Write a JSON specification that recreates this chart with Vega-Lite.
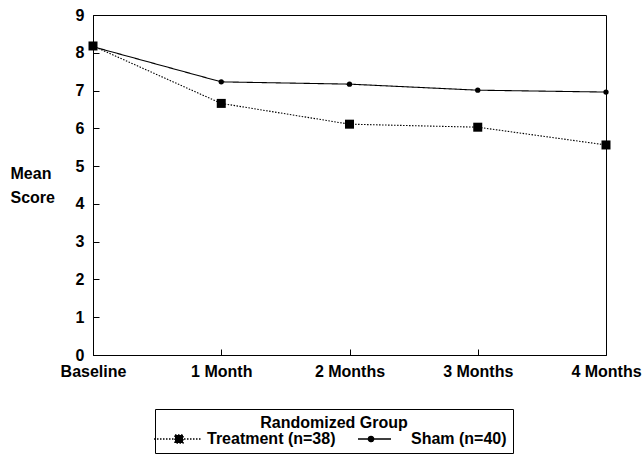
{
  "$schema": "https://vega.github.io/schema/vega-lite/v6.json",
  "autosize": {"type": "none"},
  "padding": {"left": 93, "top": 15, "right": 38, "bottom": 102},
  "width": 513,
  "height": 340,
  "background": "white",
  "data": {
    "values": [
      {"time": "Baseline", "group": "Treatment (n=38)", "score": 8.18},
      {"time": "1 Month", "group": "Treatment (n=38)", "score": 6.66},
      {"time": "2 Months", "group": "Treatment (n=38)", "score": 6.11},
      {"time": "3 Months", "group": "Treatment (n=38)", "score": 6.03},
      {"time": "4 Months", "group": "Treatment (n=38)", "score": 5.56},
      {"time": "Baseline", "group": "Sham (n=40)", "score": 8.16},
      {"time": "1 Month", "group": "Sham (n=40)", "score": 7.23},
      {"time": "2 Months", "group": "Sham (n=40)", "score": 7.17},
      {"time": "3 Months", "group": "Sham (n=40)", "score": 7.01},
      {"time": "4 Months", "group": "Sham (n=40)", "score": 6.96}
    ]
  },
  "encoding": {
    "x": {
      "field": "time", "type": "ordinal",
      "sort": ["Baseline", "1 Month", "2 Months", "3 Months", "4 Months"],
      "scale": {"type": "point", "padding": 0},
      "axis": {"title": null, "labelAngle": 0, "tickSize": -6, "labelPadding": 14, "domain": true}
    },
    "y": {
      "field": "score", "type": "quantitative",
      "scale": {"domain": [0, 9], "nice": false, "zero": true},
      "axis": {
        "values": [0, 1, 2, 3, 4, 5, 6, 7, 8, 9],
        "grid": false,
        "tickSize": -6,
        "labelPadding": 15,
        "title": ["Mean", "Score"],
        "titleAngle": 0,
        "titleAlign": "left",
        "titleBaseline": "alphabetic",
        "titleX": -83,
        "titleY": 163,
        "titleLineHeight": 24
      }
    }
  },
  "layer": [
    {
      "mark": {"type": "line", "color": "black", "strokeWidth": 1.1},
      "encoding": {
        "detail": {"field": "group", "type": "nominal"},
        "strokeDash": {
          "condition": {"test": "datum.group === 'Treatment (n=38)'", "value": [1.5, 1.5]},
          "value": [1, 0]
        }
      }
    },
    {
      "mark": {"type": "point", "filled": true, "color": "black", "opacity": 1, "strokeWidth": 0},
      "encoding": {
        "shape": {
          "condition": {"test": "datum.group === 'Treatment (n=38)'", "value": "square"},
          "value": "circle"
        },
        "size": {
          "condition": {"test": "datum.group === 'Treatment (n=38)'", "value": 81},
          "value": 28
        }
      }
    },
    {
      "transform": [{"filter": "false"}],
      "mark": {"type": "point", "filled": true, "fill": "black", "stroke": "black", "strokeWidth": 1, "opacity": 1, "size": 400},
      "encoding": {
        "shape": {
          "field": "group", "type": "nominal",
          "scale": {
            "domain": ["Treatment (n=38)", "Sham (n=40)"],
            "range": ["M-1.8,0H3M0.3,-0.4H1.1V0.4H0.3Z", "M-1.8,0H1.5M-0.24,0A0.26,0.26 0 1,1 -0.76,0A0.26,0.26 0 1,1 -0.24,0Z"]
          },
          "legend": {
            "title": "Randomized Group",
            "orient": "none",
            "legendX": 62,
            "legendY": 394,
            "direction": "horizontal",
            "titleAnchor": "middle",
            "titleAlign": "center",
            "titlePadding": -3,
            "padding": 6,
            "columnPadding": 19,
            "labelOffset": 24,
            "symbolSize": 400,
            "strokeColor": "black"
          }
        },
        "strokeDash": {
          "field": "group", "type": "nominal",
          "scale": {"domain": ["Treatment (n=38)", "Sham (n=40)"], "range": [[1.5, 1.5], [1, 0]]},
          "legend": {
            "title": "Randomized Group",
            "orient": "none",
            "legendX": 62,
            "legendY": 394,
            "direction": "horizontal",
            "titleAnchor": "middle",
            "titleAlign": "center",
            "titlePadding": -3,
            "padding": 6,
            "columnPadding": 19,
            "labelOffset": 24,
            "symbolSize": 400,
            "strokeColor": "black"
          }
        }
      }
    }
  ],
  "config": {
    "view": {"stroke": "black", "strokeWidth": 1},
    "font": "Liberation Sans",
    "axis": {
      "domainColor": "black",
      "tickColor": "black",
      "labelColor": "black",
      "titleColor": "black",
      "labelFont": "Liberation Sans",
      "titleFont": "Liberation Sans",
      "labelFontSize": 16,
      "titleFontSize": 16,
      "labelFontWeight": "bold",
      "titleFontWeight": "bold"
    },
    "legend": {
      "labelFont": "Liberation Sans",
      "titleFont": "Liberation Sans",
      "labelFontSize": 16,
      "titleFontSize": 16,
      "labelFontWeight": "bold",
      "titleFontWeight": "bold",
      "labelColor": "black",
      "titleColor": "black"
    }
  }
}
